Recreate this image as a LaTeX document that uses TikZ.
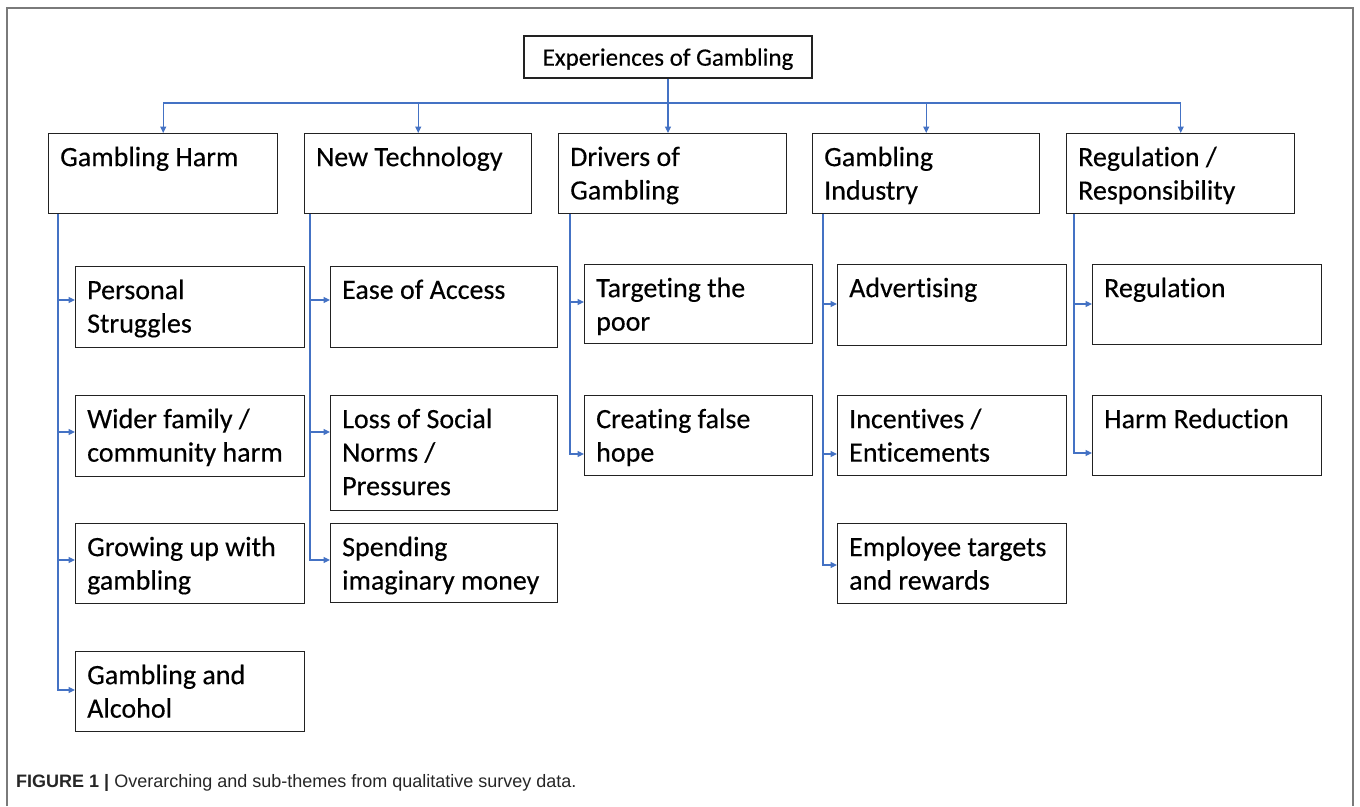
\documentclass[tikz,border=0pt]{standalone}
\usepackage{fontspec}
\setmainfont{Carlito}[Ligatures=NoCommon,FakeBold=0.3]
\newfontfamily\capfont{Liberation Sans}
\usetikzlibrary{arrows.meta,calc}
\definecolor{connblue}{HTML}{4472C4}
\definecolor{framegray}{HTML}{7A7A7A}
\definecolor{boxline}{HTML}{222222}
\begin{document}
\begin{tikzpicture}[x=1pt,y=-1pt,
  boxst/.style={draw=boxline,line width=1.4pt,inner sep=0pt,anchor=north west},
  txt/.style={anchor=north west,inner sep=0pt,align=left,font=\fontsize{28}{33.5}\selectfont,text=black},
  conn/.style={draw=connblue,line width=1.2pt},
  arr/.style={-{Triangle[length=6.5pt,width=6pt]}}]
\newcommand\mybox[6]{%
  \node[boxst,minimum width={(#4-#2)*1pt},minimum height={(#5-#3)*1pt}] (#1) at (#2,#3) {};
  \node[txt] (#1t) at ([shift={(12pt,-13.5pt)}]#1.north west) {#6};}
\useasboundingbox (0,0) rectangle (1360,806);
% frame
\draw[framegray,line width=1.3pt] (7,806) -- (7,8) -- (1353,8) -- (1353,806);
% top
\node[boxst,minimum width=288pt,minimum height=42pt,anchor=center,text depth=0pt,
  font=\fontsize{25}{28}\selectfont] (top) at (668,57) {Experiences of Gambling};
\coordinate (hub) at (668,103);
% categories
\mybox{c1}{48}{133}{277}{213}{Gambling Harm}
\mybox{c2}{304}{133}{531}{213}{New Technology}
\mybox{c3}{558}{133}{786}{213}{Drivers of\\Gambling}
\mybox{c4}{812}{133}{1039}{213}{Gambling\\Industry}
\mybox{c5}{1066}{133}{1294}{213}{Regulation /\\Responsibility}
% sub themes
\mybox{s11}{75}{266}{304}{347}{Personal\\Struggles}
\mybox{s12}{75}{395}{304}{476}{Wider family /\\community harm}
\mybox{s13}{75}{523}{304}{603}{Growing up with\\gambling}
\mybox{s14}{75}{651}{304}{731}{Gambling and\\Alcohol}
\mybox{s21}{330}{266}{557}{347}{Ease of Access}
\mybox{s22}{330}{395}{557}{510}{Loss of Social\\Norms /\\Pressures}
\mybox{s23}{330}{523}{557}{602}{Spending\\imaginary money}
\mybox{s31}{584}{264}{812}{343}{Targeting the\\poor}
\mybox{s32}{584}{395}{812}{475}{Creating false\\hope}
\mybox{s41}{837}{264}{1066}{345}{Advertising}
\mybox{s42}{837}{395}{1066}{475}{Incentives /\\Enticements}
\mybox{s43}{837}{523}{1066}{603}{Employee targets\\and rewards}
\mybox{s51}{1092}{264}{1321}{344}{Regulation}
\mybox{s52}{1092}{395}{1321}{475}{Harm Reduction}
% top connectors
\draw[conn] (top.south) -- (hub);
\draw[conn,arr] (hub) -| (c1.north);
\draw[conn,arr] (hub) -| (c2.north);
\draw[conn,arr] (hub) -- (hub |- c3.north);
\draw[conn,arr] (hub) -| (c4.north);
\draw[conn,arr] (hub) -| (c5.north);
% column connectors
\draw[conn,arr] ([xshift=10pt]c1.south west) |- ([yshift=-34pt]s11.north west);
\draw[conn,arr] ([xshift=10pt]c1.south west) |- ([yshift=-37pt]s12.north west);
\draw[conn,arr] ([xshift=10pt]c1.south west) |- ([yshift=-37pt]s13.north west);
\draw[conn,arr] ([xshift=10pt]c1.south west) |- ([yshift=-39pt]s14.north west);
\draw[conn,arr] ([xshift=6pt]c2.south west) |- ([yshift=-34pt]s21.north west);
\draw[conn,arr] ([xshift=6pt]c2.south west) |- ([yshift=-37pt]s22.north west);
\draw[conn,arr] ([xshift=6pt]c2.south west) |- ([yshift=-37pt]s23.north west);
\draw[conn,arr] ([xshift=12pt]c3.south west) |- ([yshift=-38pt]s31.north west);
\draw[conn,arr] ([xshift=12pt]c3.south west) |- ([yshift=-59pt]s32.north west);
\draw[conn,arr] ([xshift=11pt]c4.south west) |- ([yshift=-40pt]s41.north west);
\draw[conn,arr] ([xshift=11pt]c4.south west) |- ([yshift=-59pt]s42.north west);
\draw[conn,arr] ([xshift=11pt]c4.south west) |- ([yshift=-42pt]s43.north west);
\draw[conn,arr] ([xshift=8pt]c5.south west) |- ([yshift=-40pt]s51.north west);
\draw[conn,arr] ([xshift=8pt]c5.south west) |- ([yshift=-58pt]s52.north west);
% caption
\node[anchor=base west,inner sep=0pt,font=\capfont\fontsize{18}{21}\selectfont,text=black!85] (cap) at (16,787)
  {\textbf{FIGURE 1 |} Overarching and sub-themes from qualitative survey data.};
\end{tikzpicture}
\end{document}
